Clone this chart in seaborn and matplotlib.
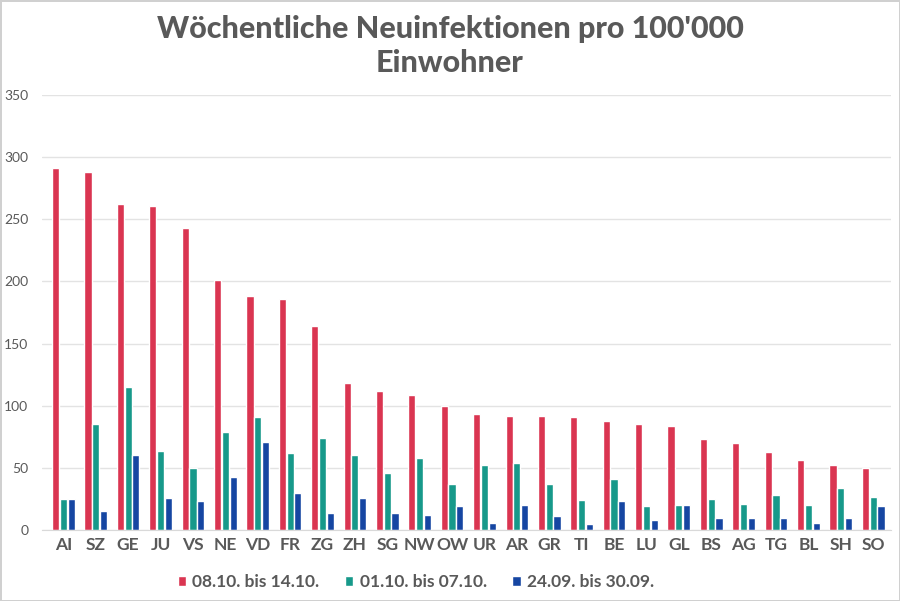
import pandas as pd
import numpy as np
import seaborn as sns
from matplotlib import pyplot as plt

kantone = ["AI", "SZ", "GE", "JU", "VS", "NE", "VD", "FR", "ZG", "ZH", "SG", "NW", "OW",
           "UR", "AR", "GR", "TI", "BE", "LU", "GL", "BS", "AG", "TG", "BL", "SH", "SO"]
woche_0810 = [291, 288, 262, 261, 243, 201, 188, 186, 164, 118, 112, 109, 100,
              93, 92, 92, 91, 88, 85, 84, 73, 70, 63, 56, 52, 50]
woche_0110 = [25, 85, 115, 64, 50, 79, 91, 62, 74, 60, 46, 58, 37,
              52, 54, 37, 24, 41, 19, 20, 25, 21, 28, 20, 34, 27]
woche_2409 = [25, 15, 60, 26, 23, 43, 71, 30, 14, 26, 14, 12, 19,
              6, 20, 11, 5, 23, 8, 20, 10, 10, 10, 6, 10, 19]
perioden = ["08.10. bis 14.10.", "01.10. bis 07.10.", "24.09. bis 30.09."]
farben = ["#DA3551", "#17998A", "#1646A2"]

df = pd.DataFrame({"Kanton": kantone, perioden[0]: woche_0810,
                   perioden[1]: woche_0110, perioden[2]: woche_2409})
df = df.melt(id_vars="Kanton", var_name="Periode", value_name="Wert")

sns.set_style("white")
plt.rcParams['font.family'] = ['Lato', 'DejaVu Sans']
grau = "#595959"

fig = plt.figure(figsize=(9, 6.01), dpi=100)
ax = fig.add_axes([0.047, 0.118, 0.943, 0.724])
sns.barplot(data=df, x="Kanton", y="Wert", hue="Periode", hue_order=perioden,
            palette=farben, width=0.72, gap=0.08, ax=ax, saturation=1)

ax.set_ylim(0, 350)
ax.set_yticks(range(0, 351, 50))
ax.set_xlim(-0.65, len(kantone) - 0.45)
ax.yaxis.grid(True, color="#E3E3E3", linewidth=1)
ax.set_axisbelow(True)
for s in ["top", "right", "left"]:
    ax.spines[s].set_visible(False)
ax.spines["bottom"].set_color("#D9D9D9")
ax.set_xlabel("")
ax.set_ylabel("")
ax.tick_params(axis="x", colors=grau, labelsize=12.5, length=0, pad=5)
ax.tick_params(axis="y", colors=grau, labelsize=10, length=0, pad=10)
for t in ax.get_xticklabels():
    t.set_fontweight("bold")

leg = ax.legend(loc="upper center", bbox_to_anchor=(0.44, -0.065), ncol=3, frameon=False,
                fontsize=12.5, labelcolor=grau, handlelength=0.5, handleheight=0.5,
                handletextpad=0.35, columnspacing=1.45)
for t in leg.get_texts():
    t.set_fontweight("bold")

fig.suptitle("Wöchentliche Neuinfektionen pro 100'000\nEinwohner", y=0.975,
             fontsize=22, fontweight="black", color=grau, linespacing=1.25)
fig.patch.set_edgecolor("#D0D0D0")
fig.patch.set_linewidth(2)

plt.savefig("out.png", dpi=100, edgecolor=fig.get_edgecolor())
